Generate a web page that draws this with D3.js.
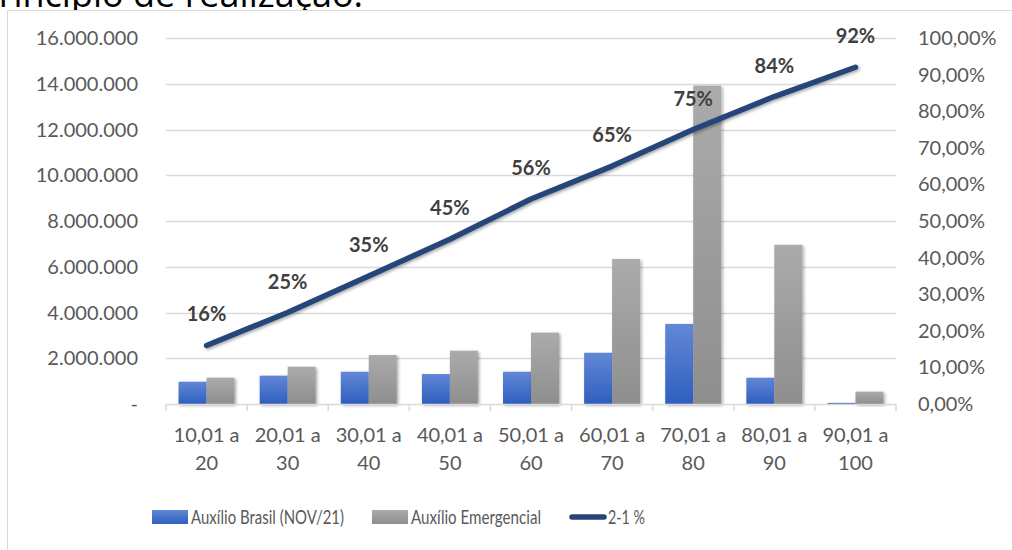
<!DOCTYPE html>
<html>
<head>
<meta charset="utf-8">
<script src="https://cdn.jsdelivr.net/npm/d3@7"></script>
<style>
    body { margin: 0; background: #fff; }
    svg { display: block; font-family: Lato, 'Open Sans', sans-serif; }
</style>
</head>
<body>
<svg id="chart" width="1012" height="550"></svg>
<script>
// faixas de renda
const categories = [
    ['10,01 a', '20'], ['20,01 a', '30'], ['30,01 a', '40'],
    ['40,01 a', '50'], ['50,01 a', '60'], ['60,01 a', '70'],
    ['70,01 a', '80'], ['80,01 a', '90'], ['90,01 a', '100']
];
const auxilioBrasil = [975000, 1240000, 1410000, 1310000, 1410000, 2240000, 3500000, 1150000, 50000];
const auxilioEmergencial = [1150000, 1630000, 2140000, 2330000, 3120000, 6340000, 13920000, 6960000, 540000];
const pct = [0.16, 0.25, 0.35, 0.45, 0.56, 0.65, 0.75, 0.84, 0.92];
const leftTicks = [0, 2000000, 4000000, 6000000, 8000000, 10000000, 12000000, 14000000, 16000000];
const rightTicks = [0, 0.1, 0.2, 0.3, 0.4, 0.5, 0.6, 0.7, 0.8, 0.9, 1];
const legendNames = ['Auxílio Brasil (NOV/21)', 'Auxílio Emergencial', '2-1 %'];

const svg = d3.select('#chart');
const plot = {left: 166, right: 896, top: 38, bottom: 404};

const x = d3.scaleBand()
    .domain(d3.range(categories.length))
    .range([plot.left, plot.right])
    .paddingInner(0)
    .paddingOuter(0);

const yLeft = d3.scaleLinear().domain([0, 16000000]).range([plot.bottom, plot.top]);
const yRight = d3.scaleLinear().domain([0, 1]).range([plot.bottom, plot.top]);

const fmtNum = (v) => v === 0 ? '-' : d3.format(',')(v).replace(/,/g, '.');
const fmtPct = (v) => d3.format('.2f')(v * 100).replace('.', ',') + '%';

// defs: gradientes e sombras
const defs = svg.append('defs');
const gradBlue = defs.append('linearGradient').attr('id', 'gBlue').attr('x1', 0).attr('x2', 0).attr('y1', 0).attr('y2', 1);
gradBlue.append('stop').attr('offset', '0%').attr('stop-color', '#6287d6');
gradBlue.append('stop').attr('offset', '100%').attr('stop-color', '#2f5fbf');
const gradGray = defs.append('linearGradient').attr('id', 'gGray').attr('x1', 0).attr('x2', 0).attr('y1', 0).attr('y2', 1);
gradGray.append('stop').attr('offset', '0%').attr('stop-color', '#ababab');
gradGray.append('stop').attr('offset', '100%').attr('stop-color', '#8e8e8e');

const shadow = defs.append('filter').attr('id', 'shadow').attr('x', '-20%').attr('y', '-20%').attr('width', '140%').attr('height', '140%');
shadow.append('feDropShadow').attr('dx', 1.5).attr('dy', 1.5).attr('stdDeviation', 1.5).attr('flood-color', '#000').attr('flood-opacity', 0.35);

// titulo cortado no topo (como na imagem original)
svg.append('text')
    .text('princípio de realização.')
    .attr('x', 363)
    .attr('y', 7)
    .style('text-anchor', 'end')
    .style('font-family', "'Open Sans', sans-serif")
    .style('font-size', 36)
    .style('fill', '#000');

// moldura do grafico
svg.append('rect')
    .attr('x', 7.5)
    .attr('y', 10.5)
    .attr('width', 1100)
    .attr('height', 600)
    .attr('fill', '#fff')
    .attr('stroke', '#d9d9d9');

// linhas de grade
svg.append('g')
    .selectAll('line')
    .data(leftTicks.slice(1))
    .enter().append('line')
    .attr('x1', plot.left)
    .attr('x2', plot.right)
    .attr('y1', (d) => Math.round(yLeft(d)) + 0.5)
    .attr('y2', (d) => Math.round(yLeft(d)) + 0.5)
    .attr('stroke', '#d9d9d9')
    .attr('stroke-width', 1.3);

// eixo esquerdo
svg.append('g')
    .selectAll('text')
    .data(leftTicks)
    .enter().append('text')
    .text((d) => fmtNum(d))
    .attr('x', 138)
    .attr('y', (d) => yLeft(d))
    .attr('dy', '0.35em')
    .style('text-anchor', 'end')
    .style('font-size', 20)
    .style('fill', '#595959');

// eixo direito
svg.append('g')
    .selectAll('text')
    .data(rightTicks)
    .enter().append('text')
    .text((d) => fmtPct(d))
    .attr('x', 918)
    .attr('y', (d) => yRight(d))
    .attr('dy', '0.35em')
    .style('text-anchor', 'start')
    .style('font-size', 20)
    .style('fill', '#595959');

// barras
const barW = x.bandwidth() * 0.345;
const groups = svg.append('g').attr('class', 'bars')
    .selectAll('g')
    .data(categories.map((c, i) => i))
    .enter().append('g');

groups.append('rect')
    .attr('x', (i) => x(i) + x.bandwidth() / 2 - barW)
    .attr('y', (i) => yLeft(auxilioBrasil[i]))
    .attr('width', barW)
    .attr('height', (i) => plot.bottom - yLeft(auxilioBrasil[i]))
    .attr('fill', 'url(#gBlue)')
    .attr('filter', 'url(#shadow)');

groups.append('rect')
    .attr('x', (i) => x(i) + x.bandwidth() / 2)
    .attr('y', (i) => yLeft(auxilioEmergencial[i]))
    .attr('width', barW)
    .attr('height', (i) => plot.bottom - yLeft(auxilioEmergencial[i]))
    .attr('fill', 'url(#gGray)')
    .attr('filter', 'url(#shadow)');

// eixo x
const xAxis = svg.append('g');
xAxis.append('line')
    .attr('x1', plot.left)
    .attr('x2', plot.right)
    .attr('y1', plot.bottom + 0.5)
    .attr('y2', plot.bottom + 0.5)
    .attr('stroke', '#d9d9d9')
    .attr('stroke-width', 1.5);

xAxis.selectAll('.tick')
    .data(d3.range(categories.length + 1))
    .enter().append('line')
    .attr('x1', (i) => plot.left + i * x.step())
    .attr('x2', (i) => plot.left + i * x.step())
    .attr('y1', plot.bottom)
    .attr('y2', plot.bottom + 7)
    .attr('stroke', '#d9d9d9')
    .attr('stroke-width', 1.5);

const xLabels = xAxis.selectAll('.xlabel')
    .data(categories)
    .enter().append('text')
    .attr('class', 'xlabel')
    .style('text-anchor', 'middle')
    .style('font-size', 20)
    .style('fill', '#595959');

xLabels.append('tspan')
    .text((d) => d[0])
    .attr('x', (d, i) => x(i) + x.bandwidth() / 2)
    .attr('y', 442);

xLabels.append('tspan')
    .text((d) => d[1])
    .attr('x', (d, i) => x(i) + x.bandwidth() / 2)
    .attr('y', 470);

// linha percentual
const line = d3.line()
    .x((d, i) => x(i) + x.bandwidth() / 2)
    .y((d) => yRight(d));

svg.append('path')
    .datum(pct)
    .attr('d', line)
    .attr('fill', 'none')
    .attr('stroke', '#264478')
    .attr('stroke-width', 5.5)
    .attr('stroke-linecap', 'round')
    .attr('stroke-linejoin', 'round')
    .attr('filter', 'url(#shadow)');

// rotulos
svg.append('g')
    .selectAll('text')
    .data(pct)
    .enter().append('text')
    .text((d) => Math.round(d * 100) + '%')
    .attr('x', (d, i) => x(i) + x.bandwidth() / 2)
    .attr('y', (d) => yRight(d) - 24)
    .style('text-anchor', 'middle')
    .style('font-size', 20)
    .style('font-weight', 'bold')
    .style('fill', '#404040');

// legenda
const legend = svg.append('g').attr('class', 'legend');
const legendX = [152, 372, 569];
const legendW = [153, 130, 37];

legend.append('rect')
    .attr('x', legendX[0]).attr('y', 510).attr('width', 36).attr('height', 14)
    .attr('fill', 'url(#gBlue)');
legend.append('rect')
    .attr('x', legendX[1]).attr('y', 510).attr('width', 36).attr('height', 14)
    .attr('fill', 'url(#gGray)');
legend.append('line')
    .attr('x1', legendX[2] + 3).attr('x2', legendX[2] + 35)
    .attr('y1', 517).attr('y2', 517)
    .attr('stroke', '#264478')
    .attr('stroke-width', 5.5)
    .attr('stroke-linecap', 'round');

legend.selectAll('text')
    .data(legendNames)
    .enter().append('text')
    .text((d) => d)
    .attr('x', (d, i) => legendX[i] + 39)
    .attr('y', 517)
    .attr('dy', '0.35em')
    .attr('textLength', (d, i) => legendW[i])
    .attr('lengthAdjust', 'spacingAndGlyphs')
    .style('font-size', 20)
    .style('fill', '#595959');
</script>
</body>
</html>
